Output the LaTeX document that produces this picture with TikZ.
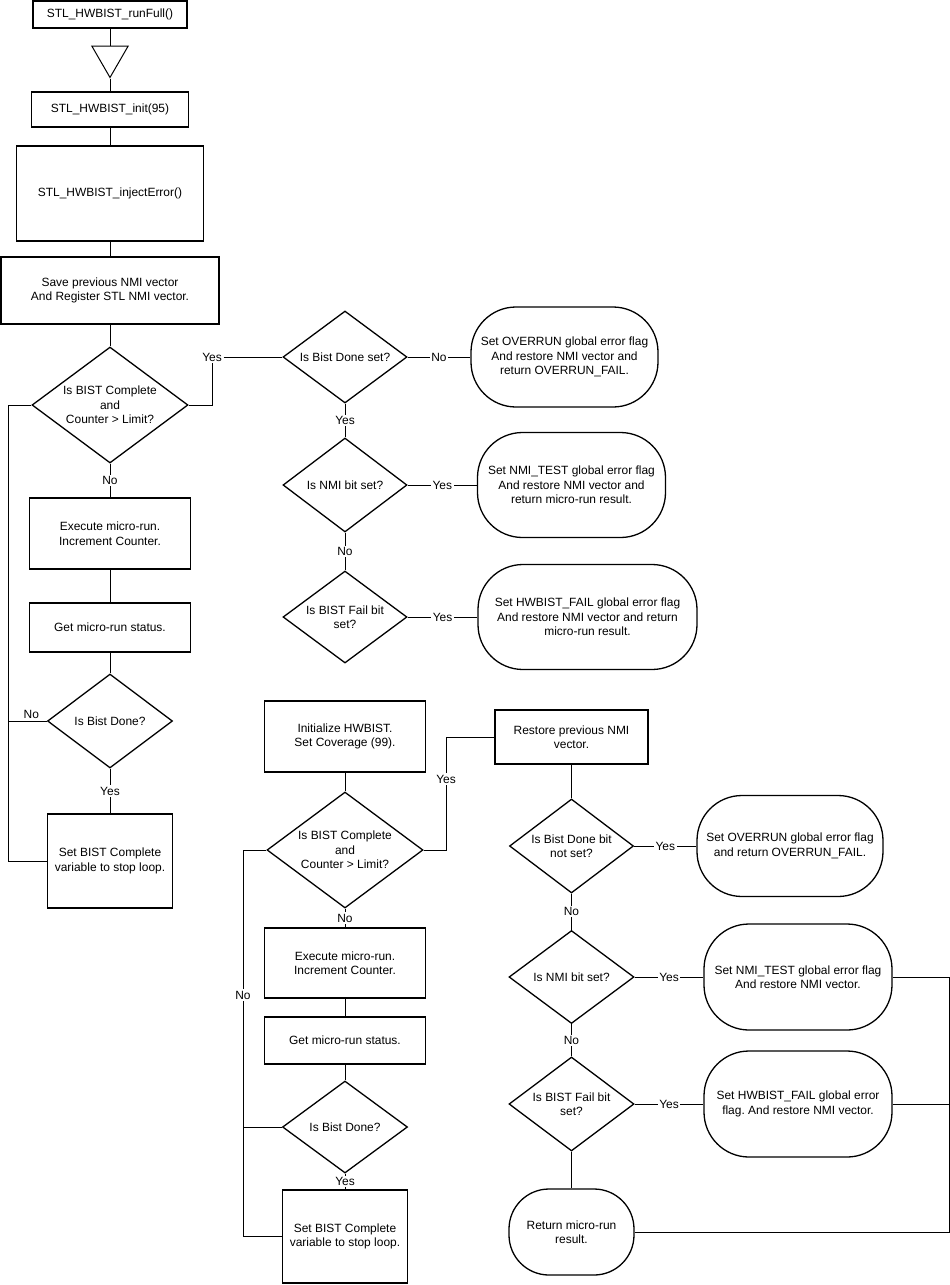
\documentclass[tikz,border=0pt]{standalone}
\usepackage{fontspec}
\setmainfont{Liberation Sans}
\usetikzlibrary{shapes.geometric, calc}
\frenchspacing

\tikzset{
  flow/.style={font=\fontsize{12}{14.5}\selectfont, align=center, inner sep=0pt},
  proc/.style n args={2}{flow, draw, line width=1.3bp, rectangle, minimum width=#1bp, minimum height=#2bp},
  dec/.style n args={2}{flow, draw, line width=1.3bp, diamond, aspect=1.35, minimum width=#1bp, minimum height=#2bp},
  term/.style n args={2}{flow, draw, line width=1.3bp, rectangle, rounded corners=45bp, minimum width=#1bp, minimum height=#2bp},
  merge/.style={draw, line width=1bp, regular polygon, regular polygon sides=3, shape border rotate=180, minimum size=42bp, inner sep=0pt},
  lbl/.style={font=\fontsize{12}{14.5}\selectfont, fill=white, inner sep=1.5bp}
}

\begin{document}
\begin{tikzpicture}[x=1bp, y=-1bp, line width=0.9bp]
\useasboundingbox (0,0) rectangle (950,1285);

% --- runFull: first loop ---
\node[proc={154}{27}] (run) at (110,14.5) {STL\_HWBIST\_runFull()};
\node[merge] (mrg) at (110,56.5) {};
\node[proc={157}{35}] (init) at (110,109.5) {STL\_HWBIST\_init(95)};
\node[proc={187}{95}] (inj) at (110,193.5) {STL\_HWBIST\_injectError()};
\node[proc={218}{67}] (save) at (110,290.5) {Save previous NMI vector\\And Register STL NMI vector.};
\node[dec={156}{116}] (dc1) at (110,405) {Is BIST Complete\\and\\Counter > Limit?};
\node[proc={161}{71}] (exec1) at (110,533.5) {Execute micro-run.\\Increment Counter.};
\node[proc={161}{49}] (stat1) at (110,627.5) {Get micro-run status.};
\node[dec={125}{94}] (dd1) at (110,721) {Is Bist Done?};
\node[proc={125}{94}] (setc1) at (110,861) {Set BIST Complete\\variable to stop loop.};
\coordinate (lp1) at (8,405);

\draw (run) -- (mrg) -- (init) -- (inj) -- (save) -- (dc1);
\draw (dc1) -- node[lbl] {No} (exec1) -- (stat1) -- (dd1) -- node[lbl] {Yes} (setc1);
\draw (setc1.west) -| (lp1) -- (dc1.west);
\draw (dd1.west) -- (dd1.west -| lp1) node[lbl, above, pos=0.4] {No};

% --- checks after first loop ---
\node[lbl] (yes1) at (212,357) {Yes};
\node[dec={124}{92}] (bds) at (345,357) {Is Bist Done set?};
\node[term={187}{100}] (ovr1) at (564.5,357) {Set OVERRUN global error flag\\And restore NMI vector and\\return OVERRUN\_FAIL.};
\node[dec={124}{94}] (nmi1) at (345,485) {Is NMI bit set?};
\node[term={188}{105}] (nmib1) at (571.5,485) {Set NMI\_TEST global error flag\\And restore NMI vector and\\return micro-run result.};
\node[dec={124}{92}] (fail1) at (345,617) {Is BIST Fail bit\\set?};
\node[term={219}{105}] (failb1) at (587.5,617) {Set HWBIST\_FAIL global error flag\\And restore NMI vector and return\\micro-run result.};

\draw (dc1.east) -| (yes1.south);
\draw (yes1.east) -- (bds.west);
\draw (bds) -- node[lbl] {No} (ovr1);
\draw (bds) -- node[lbl] {Yes} (nmi1) -- node[lbl] {No} (fail1);
\draw (nmi1) -- node[lbl] {Yes} (nmib1);
\draw (fail1) -- node[lbl] {Yes} (failb1);

% --- second loop ---
\node[proc={161}{71}] (init2) at (345,736.5) {Initialize HWBIST.\\Set Coverage (99).};
\node[dec={156}{116}] (dc2) at (345,850) {Is BIST Complete\\and\\Counter > Limit?};
\node[proc={161}{70}] (exec2) at (345,963) {Execute micro-run.\\Increment Counter.};
\node[proc={161}{47}] (stat2) at (345,1040.5) {Get micro-run status.};
\node[dec={125}{92}] (dd2) at (345,1127) {Is Bist Done?};
\node[proc={125}{93}] (setc2) at (345,1236.5) {Set BIST Complete\\variable to stop loop.};
\coordinate (lp2) at (243,850);

\draw (init2) -- (dc2) -- node[lbl] {No} (exec2) -- (stat2) -- (dd2) -- node[lbl] {Yes} (setc2);
\draw (setc2.west) -| (lp2) -- (dc2.west);
\draw (dd2.west) -- (dd2.west -| lp2);
\node[lbl] (no5) at (243,995) {No};

% --- final checks ---
\node[proc={153}{54}] (rest) at (571.5,737) {Restore previous NMI\\vector.};
\coordinate (ys2) at (446,737);
\node[dec={124}{94}] (dbn) at (571.5,846) {Is Bist Done bit\\not set?};
\node[term={186}{101}] (ovr2) at (790,846) {Set OVERRUN global error flag\\and return OVERRUN\_FAIL.};
\node[dec={125}{93}] (nmi2) at (571.5,977) {Is NMI bit set?};
\node[term={188}{106}] (nmib2) at (798,977) {Set NMI\_TEST global error flag\\And restore NMI vector.};
\node[dec={125}{94}] (fail2) at (571.5,1104) {Is BIST Fail bit\\set?};
\node[term={188}{106}] (failb2) at (798,1104) {Set HWBIST\_FAIL global error\\flag. And restore NMI vector.};
\node[term={125}{86}, rounded corners=40bp] (ret) at (571.5,1232) {Return micro-run\\result.};
\coordinate (bus) at (949,977);

\draw (dc2.east) -| (ys2) -- (rest.west);
\node[lbl] (yes2) at (446,779) {Yes};
\draw (rest) -- (dbn) -- node[lbl] {No} (nmi2) -- node[lbl] {No} (fail2) -- (ret);
\draw (dbn) -- node[lbl] {Yes} (ovr2);
\draw (nmi2) -- node[lbl] {Yes} (nmib2);
\draw (fail2) -- node[lbl] {Yes} (failb2);
\draw (nmib2) -- (bus) |- (ret);
\draw (failb2) -- (failb2 -| bus);
\end{tikzpicture}
\end{document}
